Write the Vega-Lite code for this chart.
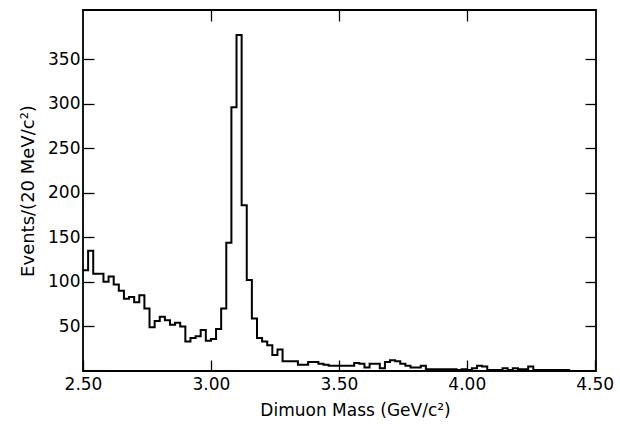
{
  "$schema": "https://vega.github.io/schema/vega-lite/v6.json",
  "width": 513,
  "height": 361,
  "autosize": "none",
  "padding": {"left": 83, "top": 10, "right": 24, "bottom": 54},
  "background": "white",
  "config": {
    "view": {"stroke": "black", "strokeWidth": 1.8},
    "axis": {
      "grid": false,
      "domain": false,
      "tickColor": "black",
      "tickWidth": 1.3,
      "tickSize": -11,
      "labelFlush": false,
      "labelFont": "DejaVu Sans",
      "labelFontSize": 17,
      "labelColor": "black",
      "titleFont": "DejaVu Sans",
      "titleFontSize": 18,
      "titleFontWeight": "normal",
      "titleColor": "black"
    }
  },
  "data": {
    "values": [
      {"m": 2.50, "n": 113}, {"m": 2.52, "n": 135}, {"m": 2.54, "n": 109}, {"m": 2.56, "n": 109},
      {"m": 2.58, "n": 100}, {"m": 2.60, "n": 106}, {"m": 2.62, "n": 97}, {"m": 2.64, "n": 90},
      {"m": 2.66, "n": 81}, {"m": 2.68, "n": 83}, {"m": 2.70, "n": 77}, {"m": 2.72, "n": 85},
      {"m": 2.74, "n": 70}, {"m": 2.76, "n": 49}, {"m": 2.78, "n": 56}, {"m": 2.80, "n": 61},
      {"m": 2.82, "n": 57}, {"m": 2.84, "n": 52}, {"m": 2.86, "n": 54}, {"m": 2.88, "n": 50},
      {"m": 2.90, "n": 33}, {"m": 2.92, "n": 37}, {"m": 2.94, "n": 39}, {"m": 2.96, "n": 46},
      {"m": 2.98, "n": 34}, {"m": 3.00, "n": 36}, {"m": 3.02, "n": 47}, {"m": 3.04, "n": 70},
      {"m": 3.06, "n": 144}, {"m": 3.08, "n": 296}, {"m": 3.10, "n": 377}, {"m": 3.12, "n": 186},
      {"m": 3.14, "n": 102}, {"m": 3.16, "n": 59}, {"m": 3.18, "n": 37}, {"m": 3.20, "n": 33},
      {"m": 3.22, "n": 29}, {"m": 3.24, "n": 18}, {"m": 3.26, "n": 24}, {"m": 3.28, "n": 11},
      {"m": 3.30, "n": 11}, {"m": 3.32, "n": 11}, {"m": 3.34, "n": 7}, {"m": 3.36, "n": 7},
      {"m": 3.38, "n": 10}, {"m": 3.40, "n": 10}, {"m": 3.42, "n": 8}, {"m": 3.44, "n": 7},
      {"m": 3.46, "n": 6}, {"m": 3.48, "n": 6}, {"m": 3.50, "n": 6}, {"m": 3.52, "n": 6},
      {"m": 3.54, "n": 6}, {"m": 3.56, "n": 9}, {"m": 3.58, "n": 8}, {"m": 3.60, "n": 4},
      {"m": 3.62, "n": 8}, {"m": 3.64, "n": 8}, {"m": 3.66, "n": 3}, {"m": 3.68, "n": 10},
      {"m": 3.70, "n": 12}, {"m": 3.72, "n": 11}, {"m": 3.74, "n": 8}, {"m": 3.76, "n": 6},
      {"m": 3.78, "n": 4}, {"m": 3.80, "n": 4}, {"m": 3.82, "n": 6}, {"m": 3.84, "n": 2},
      {"m": 3.86, "n": 2}, {"m": 3.88, "n": 2}, {"m": 3.90, "n": 2}, {"m": 3.92, "n": 2},
      {"m": 3.94, "n": 2}, {"m": 3.96, "n": 1}, {"m": 3.98, "n": 2}, {"m": 4.00, "n": 1},
      {"m": 4.02, "n": 3}, {"m": 4.04, "n": 6}, {"m": 4.06, "n": 5}, {"m": 4.08, "n": 1},
      {"m": 4.10, "n": 1}, {"m": 4.12, "n": 1}, {"m": 4.14, "n": 3}, {"m": 4.16, "n": 1},
      {"m": 4.18, "n": 3}, {"m": 4.20, "n": 2}, {"m": 4.22, "n": 2}, {"m": 4.24, "n": 5},
      {"m": 4.26, "n": 1}, {"m": 4.28, "n": 1}, {"m": 4.30, "n": 1}, {"m": 4.32, "n": 1},
      {"m": 4.34, "n": 1}, {"m": 4.36, "n": 1}, {"m": 4.38, "n": 1}, {"m": 4.40, "n": 0},
      {"m": 4.42, "n": 0}, {"m": 4.44, "n": 0}, {"m": 4.46, "n": 0}, {"m": 4.48, "n": 0},
      {"m": 4.50, "n": 0}
    ]
  },
  "layer": [
    {
      "mark": {"type": "line", "interpolate": "step-after", "color": "black", "strokeWidth": 2},
      "encoding": {
        "x": {
          "field": "m", "type": "quantitative",
          "scale": {"domain": [2.5, 4.505], "nice": false, "zero": false},
          "axis": {"orient": "bottom", "values": [2.5, 3.0, 3.5, 4.0, 4.5], "format": ".2f", "labelPadding": 16, "title": "Dimuon Mass (GeV/c²)", "titleFontSize": 17, "titleX": 272, "titlePadding": 10}
        },
        "y": {
          "field": "n", "type": "quantitative",
          "scale": {"domain": [0, 405], "nice": false},
          "axis": {"orient": "left", "values": [50, 100, 150, 200, 250, 300, 350], "labelPadding": 14, "title": "Events/(20 MeV/c²)", "titlePadding": 10}
        }
      }
    },
    {
      "mark": {"type": "line", "opacity": 0},
      "encoding": {
        "x": {
          "field": "m", "type": "quantitative",
          "axis": {"orient": "top", "values": [3.0, 3.5, 4.0], "labels": false, "title": null}
        },
        "y": {
          "field": "n", "type": "quantitative",
          "axis": {"orient": "right", "values": [50, 100, 150, 200, 250, 300, 350], "labels": false, "title": null}
        }
      }
    }
  ],
  "resolve": {"axis": {"x": "independent", "y": "independent"}}
}
